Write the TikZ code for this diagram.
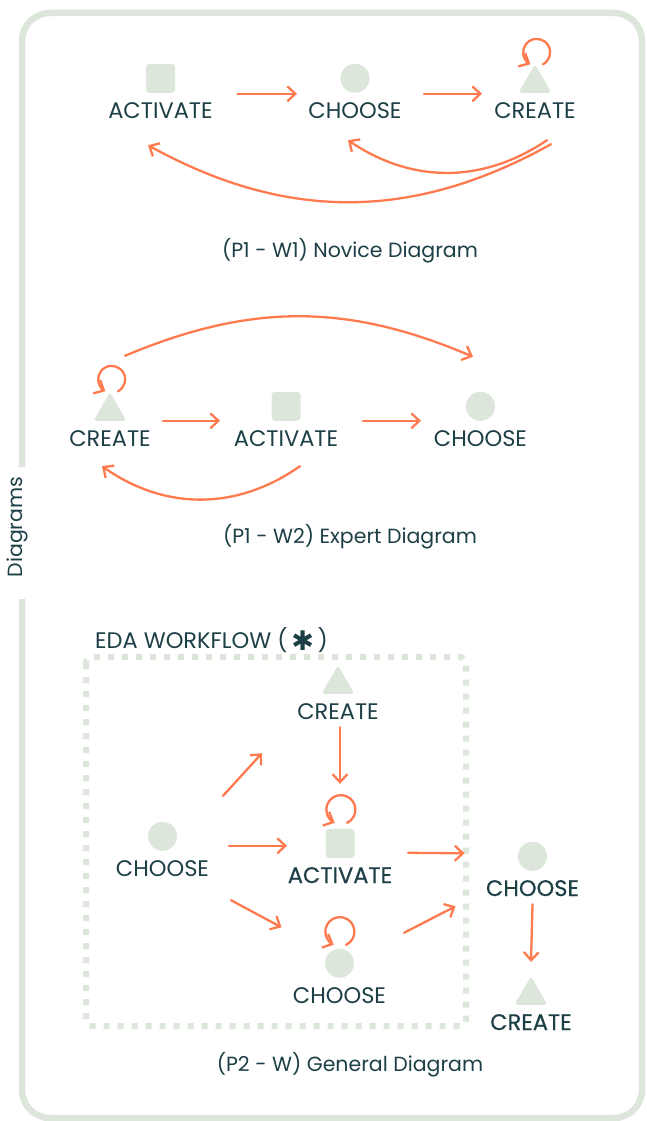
\documentclass[tikz,border=0pt]{standalone}
\usepackage{fontspec}
\setmainfont{Poppins}
\newfontfamily\symfont{DejaVu Sans}
\newfontfamily\medfont[FakeBold=0.5]{Poppins}
\usetikzlibrary{positioning, shapes.geometric, arrows.meta}

\definecolor{leaf}{HTML}{DCE6DA}
\definecolor{ink}{HTML}{1D3F46}
\definecolor{coral}{HTML}{FF7A4E}

\begin{document}
\begin{tikzpicture}[x=1pt, y=1pt,
    every node/.style={text=ink},
    lbl/.style={font=\fontsize{22.5}{22}\selectfont, inner sep=0pt, text height=15pt, text depth=0pt},
    lblb/.style={lbl, font=\medfont\fontsize{22.5}{22}\selectfont},
    capt/.style={font=\fontsize{20.5}{21}\selectfont, inner sep=0pt},
    sq/.style={rectangle, rounded corners=3.5pt, fill=leaf, minimum size=29pt, inner sep=0pt, outer sep=0pt},
    bub/.style={circle, fill=leaf, minimum size=29pt, inner sep=0pt, outer sep=0pt},
    tri/.style={regular polygon, regular polygon sides=3, rounded corners=3pt, fill=leaf, minimum size=38pt, inner sep=0pt, outer sep=0pt},
    arr/.style={draw=coral, line width=2.3pt, line cap=round, -{Straight Barb[length=8pt,width=15pt]}},
    outline/.style={draw=leaf, line width=6.5pt, rounded corners=28pt},
    dotbox/.style={draw=leaf, line width=6pt, dash pattern=on 6pt off 8pt, rounded corners=6pt}
    ]

\useasboundingbox (0,0) rectangle (646,-1121);
\draw[outline] (22,-599) -- (22,-1118) -- (642,-1118) -- (642,-13) -- (22,-13) -- (22,-467);
\node[capt, rotate=90] (side) at (17,-527) {Diagrams};

\node[lbl] (a1) at (160.5,-110.5) {ACTIVATE};
\node[lbl] (c1) at (355,-110.5) {CHOOSE};
\node[lbl] (r1) at (535,-110.5) {CREATE};
\node[sq, above=10pt of a1] (s1) {};
\node[bub, above=10pt of c1] (b1) {};
\node[tri, above=10pt of r1] (t1) {};

\draw[arr] ([shift={(77pt,-1pt)}]s1.south) -- ([shift={(-58pt,-1pt)}]b1.south);
\draw[arr] ([shift={(69pt,-1pt)}]b1.south) -- ([shift={(-53pt,-1pt)}]t1.south);
\draw[arr] ([shift={(8pt,0pt)}]t1.north) arc[start angle=-62, end angle=242, radius=13.5pt];
\draw[arr] ([shift={(12pt,-22pt)}]r1.south) to[bend left=34] ([shift={(-7pt,-22pt)}]c1.south);
\draw[arr] ([shift={(16pt,-26pt)}]r1.south) to[bend left=29] ([shift={(-12.5pt,-27pt)}]a1.south);
\node[capt, anchor=base] (n1) at (350,-257) {(P1 - W1) Novice Diagram};

\node[lbl] (r2) at (110,-438.5) {CREATE};
\node[lbl] (a2) at (286,-438.5) {ACTIVATE};
\node[lbl] (c2) at (480.5,-438.5) {CHOOSE};
\node[tri, above=10pt of r2] (t2) {};
\node[sq, above=10pt of a2] (s2) {};
\node[bub, above=10pt of c2] (b2) {};

\draw[arr] ([xshift=53pt]t2.south) -- ([xshift=-66pt]s2.south);
\draw[arr] ([xshift=77pt]s2.south) -- ([xshift=-59.5pt]b2.south);
\draw[arr] ([shift={(8pt,1pt)}]t2.north) arc[start angle=-62, end angle=242, radius=13.5pt];
\draw[arr] ([shift={(15pt,36.5pt)}]t2.north) to[bend left=23] ([shift={(-7.5pt,35pt)}]b2.north);
\draw[arr] ([shift={(14pt,-20pt)}]a2.south) to[bend left=35] ([shift={(-8pt,-20pt)}]r2.south);
\node[capt, anchor=base] (n2) at (350,-543) {(P1 - W2) Expert Diagram};

\node[lbl, anchor=base west] (eda) at (95,-648) {EDA WORKFLOW (\,\raisebox{-2.5pt}{\symfont\fontsize{27}{27}\selectfont ✱}\,)};
\draw[dotbox] (86,-657) rectangle (466,-1026);

\node[lbl] (r3) at (338,-711.5) {CREATE};
\node[lbl] (c3) at (162.5,-868.5) {CHOOSE};
\node[lblb] (a3) at (340,-875.5) {ACTIVATE};
\node[lbl] (d3) at (339.5,-995.5) {CHOOSE};
\node[lblb] (e3) at (532.5,-888.5) {CHOOSE};
\node[lblb] (f3) at (531,-1022.5) {CREATE};
\node[tri, above=10pt of r3] (t3) {};
\node[bub, above=10pt of c3] (b3) {};
\node[sq, above=10pt of a3] (s3) {};
\node[bub, above=10pt of d3] (b4) {};
\node[bub, above=10pt of e3] (b5) {};
\node[tri, above=10pt of f3] (t4) {};

\draw[arr] ([shift={(2pt,-8pt)}]r3.south) -- ([yshift=45pt]s3.north);
\draw[arr] ([shift={(60.5pt,26pt)}]b3.north) -- ([shift={(-76pt,-34pt)}]r3.south);
\draw[arr] ([shift={(52pt,-9.5pt)}]b3.east) -- ([shift={(-38.5pt,-2.5pt)}]s3.west);
\draw[arr] ([shift={(68.5pt,-24pt)}]c3.south) -- ([shift={(-43.5pt,36pt)}]b4.west);
\draw[arr] ([shift={(7pt,6pt)}]s3.north) arc[start angle=-65, end angle=245, radius=14.5pt];
\draw[arr] ([shift={(6.5pt,4pt)}]b4.north) arc[start angle=-65, end angle=245, radius=14.5pt];
\draw[arr] ([shift={(53.5pt,-9.5pt)}]s3.east) -- ([shift={(-53.5pt,3pt)}]b5.west);
\draw[arr] ([shift={(50pt,30.5pt)}]b4.east) -- ([shift={(-62.5pt,-50pt)}]b5.west);
\draw[arr] ([yshift=-8pt]e3.south) -- ([yshift=14.5pt]t4.north);
\node[capt, anchor=base] (n3) at (350,-1071) {(P2 - W) General Diagram};

\end{tikzpicture}
\end{document}
